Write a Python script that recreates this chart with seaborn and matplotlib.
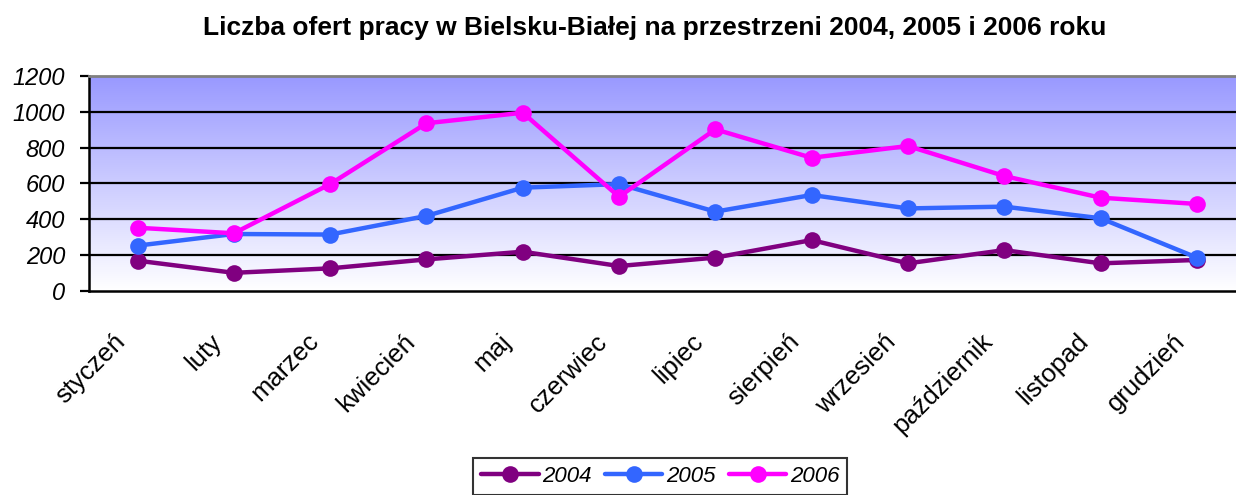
import numpy as np
import pandas as pd
import matplotlib
matplotlib.use("Agg")
import matplotlib.pyplot as plt
import matplotlib.transforms as mtransforms
import seaborn as sns
from matplotlib.ticker import FixedLocator, NullFormatter

months = ["styczeń", "luty", "marzec", "kwiecień", "maj", "czerwiec", "lipiec",
          "sierpień", "wrzesień", "październik", "listopad", "grudzień"]
years = ["2004", "2005", "2006"]
v2004 = [168, 100, 125, 175, 218, 138, 185, 283, 153, 227, 153, 172]
v2005 = [252, 317, 314, 418, 576, 596, 442, 535, 460, 470, 405, 185]
v2006 = [352, 321, 596, 936, 995, 525, 902, 743, 809, 641, 520, 485]
yticks = [0, 200, 400, 600, 800, 1000, 1200]
colors = ["#800080", "#3366FF", "#FF00FF"]

sns.set_style("white")
plt.rcParams["font.family"] = ["Liberation Sans", "DejaVu Sans"]
plt.rcParams["text.color"] = "black"
plt.rcParams["xtick.color"] = "black"
plt.rcParams["ytick.color"] = "black"
plt.rcParams["axes.labelcolor"] = "black"

df = pd.DataFrame({
    "pos": list(range(12)) * 3,
    "value": v2004 + v2005 + v2006,
    "year": [y for y in years for _ in range(12)],
})

fig = plt.figure(figsize=(12.36, 4.95), dpi=100)
ax = fig.add_axes([0.0723, 0.4127, 0.935, 0.4337])

# gradient background
grad = np.linspace(0, 1, 256).reshape(-1, 1)
cmap = matplotlib.colors.LinearSegmentedColormap.from_list("bg", ["#FFFFFF", "#9999FF"])
ax.imshow(grad, aspect="auto", cmap=cmap, origin="lower",
          extent=[-0.5, 11.5, 0, 1200], zorder=0)

sns.lineplot(data=df, x="pos", y="value", hue="year", palette=colors,
             marker="o", markersize=12, linewidth=3.2, markeredgewidth=0,
             sort=False, ax=ax, zorder=3)

ax.set_xlim(-0.5, 11.5)
ax.set_ylim(0, 1200)
for y in yticks[1:-1]:
    ax.axhline(y, color="black", linewidth=1.6, zorder=1)

ax.set_yticks(yticks)
ax.set_yticklabels([str(t) for t in yticks], fontsize=17, style="italic", color="black")
ax.xaxis.set_major_locator(FixedLocator(np.arange(-0.5, 12, 1)))
ax.xaxis.set_major_formatter(NullFormatter())
ax.set_xticks(np.arange(12), minor=True)
ax.set_xticklabels(months, minor=True, rotation=45, ha="right", va="top",
                   rotation_mode="anchor", fontsize=18.5, color="black")
ax.tick_params(axis="x", which="minor", length=0, pad=22)
ax.tick_params(axis="x", which="major", length=6, width=1.6, direction="out", color="black")
ax.tick_params(axis="y", length=6.5, width=1.6, direction="out", color="black", pad=11, left=True)
offset = mtransforms.ScaledTranslation(-0.24, -0.08, fig.dpi_scale_trans)
for lbl in ax.get_xticklabels(minor=True):
    lbl.set_transform(lbl.get_transform() + offset)
ax.set_xlabel("")
ax.set_ylabel("")

for s in ["left", "bottom"]:
    ax.spines[s].set_color("black")
    ax.spines[s].set_linewidth(1.8)
ax.spines["top"].set_color("#808080")
ax.spines["top"].set_linewidth(2)
ax.spines["right"].set_visible(False)

fig.text(0.530, 0.943, "Liczba ofert pracy w Bielsku-Białej na przestrzeni 2004, 2005 i 2006 roku",
         ha="center", va="center", fontsize=19, fontweight="bold", color="black")

ax.get_legend().remove()
handles, labels = ax.get_legend_handles_labels()
leg = fig.legend(handles, labels, loc="upper center", bbox_to_anchor=(660 / 1236, 1 - 458 / 495),
                 ncol=3, frameon=True, fancybox=False, edgecolor="black",
                 prop={"size": 16, "style": "italic"}, handlelength=2.6,
                 handletextpad=0.15, columnspacing=0.6, borderpad=0.35, borderaxespad=0)
leg.get_frame().set_linewidth(1.5)
for t in leg.get_texts():
    t.set_fontstyle("italic")
    t.set_color("black")

fig.savefig("out.png", dpi=100)
